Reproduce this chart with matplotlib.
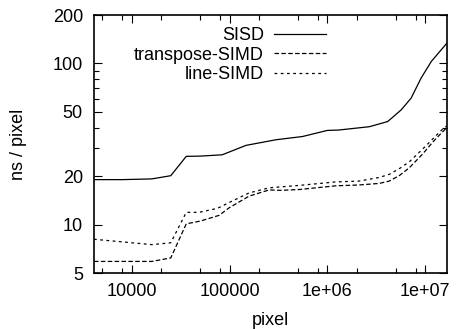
import numpy as np
import matplotlib
matplotlib.use('Agg')
import matplotlib.pyplot as plt

plt.rcParams['font.family'] = ['Liberation Sans', 'DejaVu Sans']

# pixel counts and time per pixel (ns)
sisd_x = [4096, 8000, 16000, 25000, 36000, 50000, 62000, 84000, 147000, 298000,
          558000, 1.0e6, 1.3e6, 2.7e6, 4.15e6, 5.7e6, 7.2e6, 9.1e6,
          1.16e7, 16777216]
sisd_y = [19.0, 19.0, 19.2, 20.1, 26.5, 26.6, 26.8, 27.1, 31.0, 33.6,
          35.2, 38.4, 38.6, 40.5, 43.6, 51.5, 60.9, 81.0,
          103, 134]

trans_x = [4096, 8000, 16000, 25000, 36000, 50000, 78000, 99000, 158000, 254000,
           330000, 520000, 1.23e6, 2.1e6, 3.4e6, 4.3e6, 5.5e6, 6.9e6, 9.5e6,
           1.2e7, 1.47e7, 16777216]
trans_y = [5.9, 5.9, 5.9, 6.2, 10.1, 10.5, 11.4, 12.7, 15.0, 16.4,
           16.3, 16.5, 17.4, 17.6, 18.0, 18.6, 20.2, 22.5, 27.5,
           32.5, 37.0, 40.0]

line_x = [4096, 8000, 16000, 25000, 36000, 48700, 75000, 99000, 158000, 254000,
          520000, 1.23e6, 2.1e6, 3.4e6, 4.3e6, 5.5e6, 6.9e6, 9.5e6,
          1.2e7, 1.47e7, 16777216]
line_y = [8.1, 7.8, 7.5, 7.7, 11.9, 11.9, 12.6, 13.7, 15.7, 16.9,
          17.5, 18.4, 18.6, 19.6, 20.5, 22.3, 24.5, 29.5,
          34.0, 38.5, 41.0]

yticks = [5, 10, 20, 50, 100, 200]
yminor = [30, 40, 60, 70, 80, 90]
xticks = [1e4, 1e5, 1e6, 1e7]
xticklabels = ['10000', '100000', '1e+06', '1e+07']
xminor = [5000, 8000, 2e4, 5e4, 8e4, 2e5, 5e5, 8e5, 2e6, 5e6, 8e6]

fs = 13
fig = plt.figure(figsize=(4.6, 3.29), dpi=100)
ax = fig.add_axes([94/460, 56/329, 353/460, 258/329])

ax.plot(sisd_x, sisd_y, color='black', lw=0.9, label='SISD')
ax.plot(trans_x, trans_y, color='black', lw=0.9, dashes=(3.6, 1.9), label='transpose-SIMD')
ax.plot(line_x, line_y, color='black', lw=0.9, dashes=(2.2, 2.8), label='line-SIMD')

ax.set_xscale('log')
ax.set_yscale('log')
ax.set_xlim(4096, 16777216)
ax.set_ylim(5, 200)

ax.set_yticks(yticks)
ax.set_yticklabels([str(v) for v in yticks])
ax.set_yticks(yminor, minor=True)
ax.set_yticklabels([], minor=True)
ax.set_xticks(xticks)
ax.set_xticklabels(xticklabels)
ax.set_xticks(xminor, minor=True)
ax.set_xticklabels([], minor=True)

ax.tick_params(which='both', direction='in', top=True, right=True, labelsize=fs)
ax.tick_params(which='major', length=5.8, width=0.8, pad=7)
ax.tick_params(which='minor', length=3.6, width=0.8)
ax.tick_params(axis='y', which='major', pad=8)
for s in ax.spines.values():
    s.set_linewidth(1.2)

ax.set_xlabel('pixel', fontsize=fs)
ax.set_ylabel('ns / pixel', fontsize=fs)
ax.xaxis.set_label_coords(0.5, -0.152)
ax.yaxis.set_label_coords(-0.19, 0.5)

ax.legend(loc='upper right', bbox_to_anchor=((326-94)/353, (273-27)/258),
          frameon=False, markerfirst=False, fontsize=fs, handlelength=2.9,
          handletextpad=0.55, labelspacing=0.14, borderpad=0, borderaxespad=0)

fig.savefig('out.png', dpi=100)
